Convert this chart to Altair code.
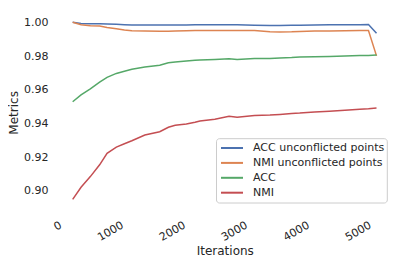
import altair as alt
import pandas as pd

iterations = [165, 300, 450, 600, 720, 870, 1000, 1120, 1330, 1570, 1710, 1820, 2000, 2140, 2220,
              2460, 2690, 2820, 3100, 3350, 3510, 3700, 3830, 4070, 4310, 4560, 4800, 4940, 5070]

acc_unconflicted = [1.000, 0.9993, 0.9992, 0.9992, 0.9990, 0.9988, 0.9986, 0.9984, 0.9984, 0.9984,
                    0.9984, 0.9984, 0.9984, 0.9985, 0.9985, 0.9985, 0.9985, 0.9985, 0.9983, 0.9981,
                    0.9981, 0.9982, 0.9983, 0.9984, 0.9985, 0.9985, 0.9986, 0.9987, 0.9935]
nmi_unconflicted = [1.000, 0.9986, 0.9980, 0.9978, 0.9970, 0.9962, 0.9954, 0.9950, 0.9948, 0.9947,
                    0.9947, 0.9948, 0.9950, 0.9951, 0.9951, 0.9952, 0.9952, 0.9952, 0.9951, 0.9944,
                    0.9943, 0.9944, 0.9946, 0.9948, 0.9949, 0.9950, 0.9951, 0.9951, 0.9801]
acc = [0.9529, 0.9570, 0.9605, 0.9645, 0.9674, 0.9697, 0.9710, 0.9722, 0.9735, 0.9746,
       0.9760, 0.9765, 0.9770, 0.9775, 0.9776, 0.9780, 0.9784, 0.9780, 0.9785, 0.9786,
       0.9789, 0.9791, 0.9794, 0.9796, 0.9798, 0.9800, 0.9803, 0.9804, 0.9806]
nmi = [0.8950, 0.9022, 0.9085, 0.9155, 0.9223, 0.9260, 0.9280, 0.9298, 0.9332, 0.9351,
       0.9378, 0.9389, 0.9397, 0.9408, 0.9415, 0.9425, 0.9443, 0.9437, 0.9448, 0.9450,
       0.9454, 0.9460, 0.9462, 0.9468, 0.9472, 0.9478, 0.9485, 0.9488, 0.9492]

series_names = ["ACC unconflicted points", "NMI unconflicted points", "ACC", "NMI"]
series_colors = ["#4c72b0", "#dd8452", "#55a868", "#c44e52"]
x_ticks = [0, 1000, 2000, 3000, 4000, 5000]
y_ticks = [0.90, 0.92, 0.94, 0.96, 0.98, 1.00]

rows = []
for name, vals in zip(series_names, [acc_unconflicted, nmi_unconflicted, acc, nmi]):
    for it, v in zip(iterations, vals):
        rows.append({"Iterations": it, "Metrics": v, "series": name})
df = pd.DataFrame(rows)

TXT = "#262626"
FONT = "DejaVu Sans"

lines = alt.Chart(df).mark_line(strokeWidth=1.5).encode(
    x=alt.X("Iterations:Q",
            scale=alt.Scale(domain=[-80, 5320], nice=False, zero=False),
            axis=alt.Axis(values=x_ticks, format="d", labelAngle=-30, labelAlign="right",
                          labelBaseline="top", labelPadding=9, labelOffset=-5,
                          titleY=40, titleBaseline="middle", title="Iterations")),
    y=alt.Y("Metrics:Q",
            scale=alt.Scale(domain=[0.8887, 1.0053], nice=False, zero=False),
            axis=alt.Axis(values=y_ticks, format=".2f", labelPadding=9.5,
                          titleX=-44, titleY=99, titleBaseline="middle", title="Metrics")),
    color=alt.Color("series:N",
                    scale=alt.Scale(domain=series_names, range=series_colors),
                    legend=alt.Legend(title=None, orient="none", legendX=166.5, legendY=126.6,
                                      symbolType="M-1.57,0H1.57", symbolSize=196,
                                      symbolStrokeWidth=2, symbolFillColor="transparent",
                                      labelOffset=13, padding=0, rowPadding=1.9,
                                      strokeColor="transparent")),
)

# legend frame (decoration drawn behind the legend entries)
frame = alt.Chart(pd.DataFrame({"f": [0]})).mark_rect(
    fill="white", fillOpacity=0.8, stroke="#cccccc", strokeWidth=1, cornerRadius=3
).encode(
    x=alt.value(159), x2=alt.value(329.8), y=alt.value(125.3), y2=alt.value(189.6)
)

chart = alt.layer(lines, frame).properties(
    width=334.5, height=196.6,
    autosize=alt.AutoSizeParams(type="none"),
    padding={"left": 49.5, "top": 5.4, "right": 6, "bottom": 47},
).configure_view(stroke=None).configure_axis(
    grid=False, domain=False, ticks=False, tickSize=0,
    labelFont=FONT, labelFontSize=11, labelColor=TXT,
    titleFont=FONT, titleFontSize=12, titleColor=TXT, titleFontWeight="normal",
).configure_legend(
    labelFont=FONT, labelFontSize=11, labelColor=TXT,
)

chart.save("out.html", embed_options={"renderer": "svg", "actions": False})
